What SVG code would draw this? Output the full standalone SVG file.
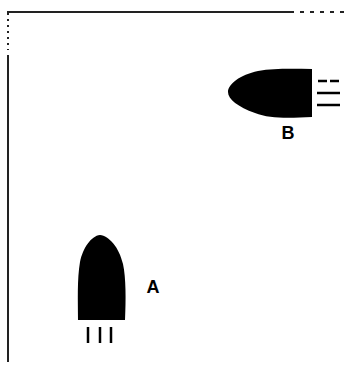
<svg xmlns="http://www.w3.org/2000/svg" width="363" height="369" viewBox="0 0 363 369">
<style>
.lbl{font-family:"Liberation Sans",Arial,sans-serif;font-weight:bold;font-size:18px;fill:#000}
.tick{stroke:#000;stroke-width:2.5}
.frame{stroke:#222;stroke-width:2;fill:none}
</style>
<rect width="363" height="369" fill="#fff"/>
<g id="frame">
<line class="frame" x1="7" y1="12" x2="290" y2="12"/>
<line class="frame" x1="290" y1="12" x2="345" y2="12" stroke-dasharray="4,6" stroke="#555"/>
<line class="frame" x1="8" y1="13" x2="8" y2="50" stroke-width="1" stroke="#ccc" stroke-dasharray="2,4"/>
<line class="frame" x1="8" y1="55" x2="8" y2="362"/>
</g>
<g id="B">
<path d="M312,69 L312,117 C290,118 270,119 255,113 C238,107 228,99 228,92 C228,84 240,75 258,71 C275,68 295,69 312,69 Z" fill="#000"/>
<line class="tick" x1="318" y1="81" x2="340" y2="81" stroke-dasharray="9,3"/>
<line class="tick" x1="317" y1="93" x2="340" y2="93"/>
<line class="tick" x1="317" y1="105" x2="340" y2="105"/>
<text class="lbl" x="288" y="139" text-anchor="middle">B</text>
</g>
<g id="A">
<path d="M78,320 L125,320 C126,300 126,278 123,264 C119,247 109,236 100,235 C91,236 83,248 80,262 C77,280 78,300 78,320 Z" fill="#000"/>
<line class="tick" x1="88" y1="327" x2="88" y2="343"/>
<line class="tick" x1="100" y1="327" x2="100" y2="343"/>
<line class="tick" x1="111" y1="327" x2="111" y2="343"/>
<text class="lbl" x="153" y="293" text-anchor="middle">A</text>
</g>
</svg>
